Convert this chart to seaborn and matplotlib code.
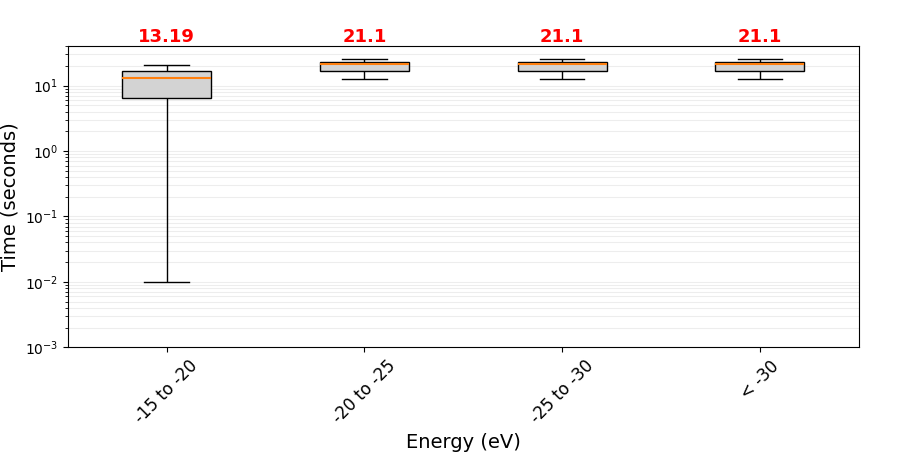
""" Box plot of time vs energy bins """
import matplotlib

matplotlib.use("Agg")
import matplotlib.pyplot as plt
import matplotlib.transforms as mtransforms
import numpy as np
import pandas as pd
import seaborn as sns

# Energy bins and the times (seconds) of each bin
categories = ["-15 to -20", "-20 to -25", "-25 to -30", "< -30"]
times_15_20 = [0.01, 6.5, 13.19, 16.8, 20.9]
times_20_25 = [12.7, 16.8, 21.1, 23.0, 25.6]
times_25_30 = [12.7, 16.8, 21.1, 23.0, 25.6]
times_lt_30 = [12.7, 16.8, 21.1, 23.0, 25.6]

series = [times_15_20, times_20_25, times_25_30, times_lt_30]
df = pd.DataFrame(
    [(cat, t) for cat, vals in zip(categories, series) for t in vals],
    columns=["energy", "time"],
)

fig, ax = plt.subplots(figsize=(9.03, 4.63), dpi=100)
sns.boxplot(
    data=df,
    x="energy",
    y="time",
    order=categories,
    width=0.45,
    whis=(0, 100),
    color="lightgray",
    linecolor="black",
    linewidth=1,
    showfliers=False,
    medianprops={"color": "C1", "linewidth": 1.5},
    log_scale=True,
    ax=ax,
)
ax.set_ylim(1e-3, 40)
ax.grid(True, which="both", axis="y", color="#e6e6e6", linewidth=0.8, alpha=0.7)
ax.set_axisbelow(True)

# Median labels above the axes
trans = mtransforms.blended_transform_factory(ax.transData, ax.transAxes)
for i, vals in enumerate(series):
    med = round(float(np.median(vals)), 2)
    ax.text(i, 1.0, f"{med:g}", transform=trans, ha="center", va="bottom",
            color="red", fontsize=13, fontweight="bold")

ax.set_xlabel("Energy (eV)", fontsize=14)
ax.set_ylabel("Time (seconds)", fontsize=14)
plt.setp(ax.get_xticklabels(), rotation=45, fontsize=12)
fig.subplots_adjust(left=0.075, right=0.951, top=0.9, bottom=0.25)
fig.savefig("out.png")
plt.close()
